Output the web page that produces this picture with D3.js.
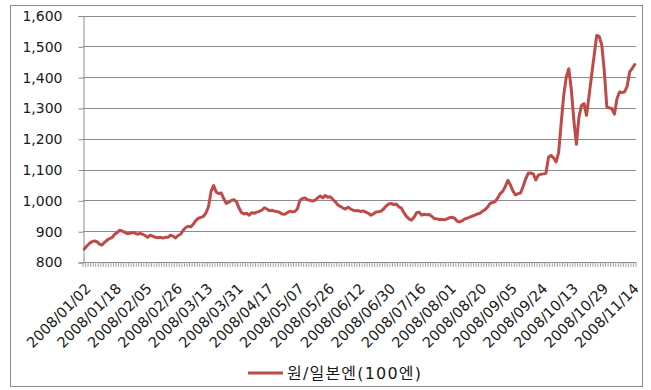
<!DOCTYPE html>
<html><head><meta charset="utf-8">
<script src="https://cdn.jsdelivr.net/npm/d3@7"></script>
<style>
html,body{margin:0;padding:0;background:#fff;}
svg{display:block;}
text{font-family:"DejaVu Sans","Noto Sans CJK KR",sans-serif;fill:#1a1a1a;}
</style></head><body>
<svg id="chart" width="651" height="390"></svg>
<script>
// Tick labels (every 12th trading day)
const tickLabels = ["2008/01/02","2008/01/18","2008/02/05","2008/02/26","2008/03/13","2008/03/31",
  "2008/04/17","2008/05/07","2008/05/26","2008/06/12","2008/06/30","2008/07/16","2008/08/01",
  "2008/08/20","2008/09/05","2008/09/24","2008/10/13","2008/10/29","2008/11/14"];
const labelStep = 12;
const seriesName = "원/일본엔(100엔)";
// KRW per 100 JPY, daily (trading days from 2008/01/02)
const krwJpy = [
  842,852,860,866,868,866,858,855,864,871,876,880,890,896,903,900,896,892,893,896,
  894,890,893,890,886,880,887,884,880,879,880,878,880,880,887,884,878,886,890,903,
  912,916,914,923,935,942,945,948,960,980,1030,1048,1027,1022,1024,1005,990,994,1000,1002,
  996,975,960,956,958,952,960,958,962,964,968,976,972,966,968,965,964,961,956,955,
  960,965,963,964,972,1000,1006,1008,1002,1000,998,1001,1008,1014,1008,1016,1010,1012,1003,995,
  985,980,975,972,978,972,968,966,967,964,966,962,958,952,956,962,963,965,972,982,
  988,990,986,988,979,975,960,948,940,936,945,960,962,952,955,953,954,948,941,940,
  938,938,937,940,944,945,942,932,930,934,940,942,946,949,952,956,958,965,970,978,
  990,993,996,1008,1022,1030,1045,1065,1050,1030,1018,1022,1024,1045,1070,1088,1089,1086,1066,1082,
  1085,1086,1088,1140,1146,1138,1125,1155,1250,1340,1400,1427,1360,1260,1182,1270,1308,1314,1276,1340,
  1406,1470,1535,1532,1505,1420,1303,1300,1298,1280,1330,1352,1350,1352,1370,1417,1428,1441
];
const yTicks = [800,900,1000,1100,1200,1300,1400,1500,1600];

const svg = d3.select("#chart");
const L = 83, R = 636, T = 15.5, B = 262;

// chart-area border
svg.append("rect").attr("x",10.5).attr("y",5.5).attr("width",632).attr("height",381)
  .attr("fill","none").attr("stroke","#8a8a8a").attr("stroke-width",1);

const x = d3.scaleBand().domain(d3.range(krwJpy.length)).range([L,R]).padding(0);
const y = d3.scaleLinear().domain([800,1600]).range([B,T]);

// gridlines
svg.append("g").selectAll("line").data(yTicks.slice(1)).join("line")
  .attr("x1",L).attr("x2",R)
  .attr("y1",d=>Math.round(y(d))+0.5).attr("y2",d=>Math.round(y(d))+0.5)
  .attr("stroke","#8c8c8c").attr("stroke-width",1);

// y axis
const yAxis = d3.axisLeft(y).tickValues(yTicks).tickSize(5).tickPadding(16)
  .tickFormat(d3.format(","));
const gy = svg.append("g").attr("transform",`translate(${L+0.5},0.5)`).call(yAxis);
gy.select(".domain").attr("stroke","#8c8c8c");
gy.selectAll(".tick line").attr("stroke","#8c8c8c");
gy.selectAll("text").attr("font-size","14px").attr("fill","#1a1a1a");

// x axis: tick marks at every category boundary
const bounds = d3.range(krwJpy.length+1).map(i => L + i*x.bandwidth());
const gx = svg.append("g");
gx.append("line").attr("x1",L).attr("x2",R).attr("y1",B+0.5).attr("y2",B+0.5).attr("stroke","#8c8c8c");
gx.selectAll("line.t").data(bounds).join("line").attr("class","t")
  .attr("x1",d=>d).attr("x2",d=>d).attr("y1",B).attr("y2",B+5)
  .attr("stroke","#999").attr("stroke-width",0.9);

// x labels
gx.selectAll("text").data(tickLabels).join("text")
  .attr("transform",(d,i)=>{const cx = x(i*labelStep)+x.bandwidth()/2; return `translate(${cx+4},286) rotate(-45)`;})
  .attr("text-anchor","end").attr("dy","0.35em").attr("font-size","14.5px")
  .text(d=>d);

// line
const line = d3.line().x((d,i)=>x(i)+x.bandwidth()/2).y(d=>y(d)).curve(d3.curveLinear);
svg.append("path").datum(krwJpy).attr("d",line)
  .attr("fill","none").attr("stroke","#BE4B48").attr("stroke-width",3)
  .attr("stroke-linejoin","round").attr("stroke-linecap","round");

// legend
svg.append("line").attr("x1",248).attr("x2",283).attr("y1",373).attr("y2",373)
  .attr("stroke","#BE4B48").attr("stroke-width",3);
svg.append("text").attr("x",287).attr("y",373).attr("dy","0.35em")
  .attr("font-size","16px").attr("letter-spacing","1.2px")
  .attr("font-family","'Noto Sans CJK KR',sans-serif").text(seriesName);
</script>
</body></html>
